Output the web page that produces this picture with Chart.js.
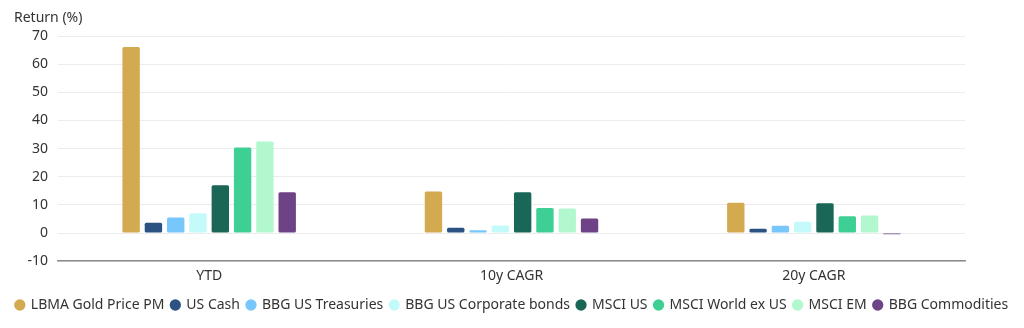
<!DOCTYPE html>
<html>
<head>
<meta charset="utf-8">
<script src="https://cdn.jsdelivr.net/npm/chart.js@4"></script>
<style>
  html, body { margin: 0; padding: 0; background: #fff; }
  #wrap { width: 1024px; height: 328px; }
</style>
</head>
<body>
<div id="wrap"><canvas id="returnsChart"></canvas></div>
<script>
const categories = ['YTD', '10y CAGR', '20y CAGR'];
const seriesNames = ['LBMA Gold Price PM', 'US Cash', 'BBG US Treasuries', 'BBG US Corporate bonds',
  'MSCI US', 'MSCI World ex US', 'MSCI EM', 'BBG Commodities'];
const goldValues = [66.1, 14.8, 10.8];
const cashValues = [3.7, 1.9, 1.5];
const treasuryValues = [5.5, 1.0, 2.6];
const corpBondValues = [7.0, 2.7, 4.0];
const msciUsValues = [17.0, 14.5, 10.6];
const msciWorldValues = [30.4, 8.9, 6.0];
const msciEmValues = [32.5, 8.7, 6.2];
const commodityValues = [14.5, 5.2, -0.4];
const seriesColors = ['#d4aa50', '#2b5283', '#77c6fc', '#c5fafb', '#1a6758', '#3ecf94', '#b2f8cf', '#6e4286'];
const yTicks = [-10, 0, 10, 20, 30, 40, 50, 60, 70];
const yTitle = 'Return (%)';

const allValues = [goldValues, cashValues, treasuryValues, corpBondValues,
  msciUsValues, msciWorldValues, msciEmValues, commodityValues];

const font = { family: '"Noto Sans", "Open Sans", sans-serif', size: 14, weight: 'normal' };

// y-axis title sits horizontally above the tick labels
const yTitlePlugin = {
  id: 'yTitle',
  afterDraw(chart) {
    const ctx = chart.ctx;
    ctx.save();
    ctx.font = '14px "Noto Sans", "Open Sans", sans-serif';
    ctx.fillStyle = '#333';
    ctx.textBaseline = 'middle';
    ctx.textAlign = 'left';
    ctx.fillText(yTitle, 14, 18);
    ctx.restore();
  }
};

new Chart(document.getElementById('returnsChart'), {
  type: 'bar',
  data: {
    labels: categories,
    datasets: allValues.map((vals, i) => ({
      label: seriesNames[i],
      data: vals,
      backgroundColor: seriesColors[i],
      borderWidth: 0,
      borderRadius: 1.5,
      borderSkipped: false,
      barPercentage: 0.78,
      categoryPercentage: 0.59
    }))
  },
  options: {
    responsive: true,
    maintainAspectRatio: false,
    animation: false,
    layout: { padding: { left: 0, right: 0, top: 36, bottom: 6 } },
    scales: {
      x: {
        grid: { display: false },
        border: { display: true, color: '#8c8c8c', width: 1.5 },
        ticks: { color: '#333', font: font, padding: -2 },
        afterFit: axis => { axis.height += 9; }
      },
      y: {
        min: yTicks[0],
        max: yTicks[yTicks.length - 1],
        afterBuildTicks: axis => { axis.ticks = yTicks.map(v => ({ value: v })); },
        afterFit: axis => { axis.width = 58; },
        grid: { color: '#ececec', drawTicks: false },
        border: { display: false },
        ticks: { color: '#333', font: font, padding: 10 }
      },
      yRight: {
        position: 'right',
        display: true,
        afterFit: axis => { axis.width = 59; },
        grid: { display: false },
        border: { display: false },
        ticks: { display: false }
      }
    },
    plugins: {
      title: { display: false },
      legend: {
        position: 'bottom',
        labels: {
          usePointStyle: true,
          pointStyle: 'circle',
          boxWidth: 8,
          boxHeight: 8,
          padding: 7,
          color: '#333',
          font: font
        }
      },
      tooltip: { enabled: false }
    }
  },
  plugins: [yTitlePlugin]
});
</script>
</body>
</html>
